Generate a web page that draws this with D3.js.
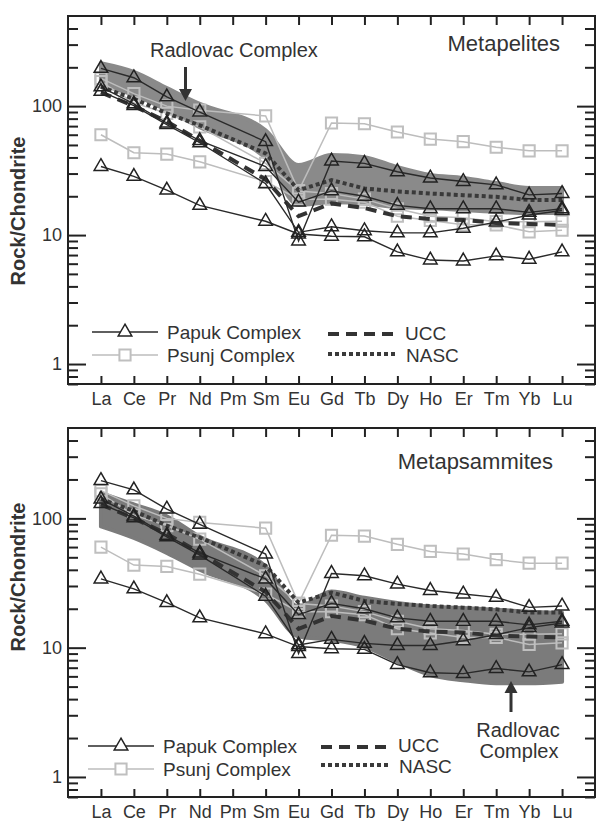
<!DOCTYPE html>
<html>
<head>
<meta charset="utf-8">
<script src="https://cdn.jsdelivr.net/npm/d3@7"></script>
<style>
  body { margin: 0; background: #fff; }
  svg { display: block; font-family: "Liberation Sans", Arial, sans-serif; }
</style>
</head>
<body>
<script>
const width = 596;
const height = 821;

const elements = ["La", "Ce", "Pr", "Nd", "Pm", "Sm", "Eu", "Gd", "Tb", "Dy", "Ho", "Er", "Tm", "Yb", "Lu"];

// Papuk Complex samples (rock/chondrite), Pm not measured
const papuk1 = [196, 166, 118, 90, null, 53, 9.0, 37.5, 36, 31, 27.7, 26, 24.5, 20.5, 21];
const papuk2 = [141, 104, 74, 54, null, 34, 18, 22, 20, 17, 16, 16, 16, 15, 16];
const papuk3 = [130, 101, 72, 52, null, 25, 10.5, 11.6, 10.8, 10.4, 10.4, 11.3, 12.6, 14.3, 15.5];
const papuk4 = [34, 28.5, 22.3, 17, null, 12.8, 10.2, 9.8, 9.7, 7.4, 6.4, 6.3, 6.9, 6.5, 7.4];

// Psunj Complex samples
const psunj1 = [164, 125, 100, 93, null, 84, 22, 74, 73, 63, 55.5, 53, 48, 45, 45];
const psunj2 = [60, 43.5, 42.5, 37, null, 26, 19, 19, 18, 14, 13, 12, 12, 10.6, 10.9];
const psunj3 = [155, 106, 88, 69, null, 36, 22, 21, 19, 16, 14, 13.6, 12.7, 12.7, 12.8];

const ucc = [128, 100, 76, 54, null, 27, 14, 17.6, 16.2, 14, 13.3, 13.1, 12.4, 12.2, 12];
const nasc = [141, 114, 88, 71, null, 43, 22.3, 26.7, 23, 21.8, 21, 20.4, 19.8, 18.7, 18.7];

// Radlovac Complex envelopes
const radPelitesHi = [215, 184, 138, 104, null, 65, 35, 41.8, 40.2, 33.6, 29.2, 27.7, 25.3, 23.2, 23.2];
const radPelitesLo = [145, 122, 93, 68.7, null, 39.5, 17.1, 18, 17.6, 16.5, 16.2, 15.6, 15.1, 14.8, 14.8];
const radPsammitesHi = [157, 128, 104, 72, null, 42.5, 20.8, 27.2, 24.3, 22.2, 20.8, 20.3, 19.6, 19.0, 18.6];
const radPsammitesLo = [86.7, 70.5, 54, 40, null, 23.4, 12.2, 11.5, 10.2, 7.8, 6.15, 5.6, 5.3, 5.3, 5.45];

const majorTicks = [1, 10, 100];
const minorTicks = [0.7, 0.8, 0.9, 2, 3, 4, 5, 6, 7, 8, 9, 20, 30, 40, 50, 60, 70, 80, 90, 200, 300, 400];

const papukSamples = [papuk1, papuk2, papuk3, papuk4];
const psunjSamples = [psunj1, psunj2, psunj3];

const left = 68, right = 595;
const textColor = "#333";

const x = d3.scalePoint()
    .domain(elements)
    .range([left, right])
    .padding(1);

const svg = d3.select("body")
    .append("svg")
    .attr("width", width)
    .attr("height", height);

// keep only measured points so lines run straight from Nd to Sm
function pts(arr){
    return arr.map(function(v, i){ return {el: elements[i], v: v}; })
        .filter(function(d){ return d.v != null; });
}

const panels = [
    {top: 16, bottom: 384, title: "Metapelites", titleX: 560, titleY: 51, hi: radPelitesHi, lo: radPelitesLo,
     bandColor: "#8a8a8a", ylabelY: 211,
     leg: {lx: 92, ly1: 332, ly2: 355, tx: 167, dx0: 328, dx1: 394, dy1: 334, dy2: 354, dtx: 405, dty1: 333, dty2: 355}},
    {top: 428, bottom: 797, title: "Metapsammites", titleX: 553, titleY: 469, hi: radPsammitesHi, lo: radPsammitesLo,
     bandColor: "#7b7b7b", ylabelY: 577,
     leg: {lx: 88, ly1: 746, ly2: 769, tx: 163, dx0: 321, dx1: 386, dy1: 747, dy2: 765, dtx: 398, dty1: 745, dty2: 766}}
];

const tri = d3.symbol(d3.symbolTriangle, 80)();
const sq = d3.symbol(d3.symbolSquare, 125)();

panels.forEach(function(p){
    const y = d3.scaleLog()
        .domain([0.7, 500])
        .range([p.bottom, p.top]);

    const g = svg.append("g");

    // Radlovac envelope
    const band = elements.map(function(el, i){ return {el: el, hi: p.hi[i], lo: p.lo[i]}; })
        .filter(function(d){ return d.hi != null; });
    g.append("path")
        .datum(band)
        .attr("fill", p.bandColor)
        .attr("stroke", p.bandColor)
        .attr("stroke-width", 4)
        .attr("stroke-linejoin", "round")
        .attr("d", d3.area()
            .x(function(d){ return x(d.el); })
            .y0(function(d){ return y(d.lo); })
            .y1(function(d){ return y(d.hi); })
            .curve(d3.curveMonotoneX));

    const line = d3.line()
        .x(function(d){ return x(d.el); })
        .y(function(d){ return y(d.v); });

    // Psunj
    psunjSamples.forEach(function(s){
        g.append("path").datum(pts(s))
            .attr("fill", "none").attr("stroke", "#bdbdbd").attr("stroke-width", 1.5)
            .attr("d", line);
        g.selectAll(null).data(pts(s)).join("path")
            .attr("d", sq)
            .attr("transform", function(d){ return "translate(" + x(d.el) + "," + y(d.v) + ")"; })
            .attr("fill", "none").attr("stroke", "#bfbfbf").attr("stroke-width", 2);
    });

    // UCC and NASC
    g.append("path").datum(pts(ucc))
        .attr("fill", "none").attr("stroke", "#333").attr("stroke-width", 4)
        .attr("stroke-dasharray", "11,7").attr("d", line);
    g.append("path").datum(pts(nasc))
        .attr("fill", "none").attr("stroke", "#3a3a3a").attr("stroke-width", 4)
        .attr("stroke-dasharray", "4,3").attr("d", line);

    // Papuk
    papukSamples.forEach(function(s){
        g.append("path").datum(pts(s))
            .attr("fill", "none").attr("stroke", "#2a2a2a").attr("stroke-width", 1.4)
            .attr("d", line);
        g.selectAll(null).data(pts(s)).join("path")
            .attr("d", tri)
            .attr("transform", function(d){ return "translate(" + x(d.el) + "," + y(d.v) + ")"; })
            .attr("fill", "none").attr("stroke", "#222").attr("stroke-width", 1.5);
    });

    // axes
    function styleAxis(a){
        a.select(".domain").remove();
        a.selectAll("line").attr("stroke", "#222").attr("stroke-width", 2);
    }
    g.append("g").attr("transform", "translate(" + left + ",0)")
        .call(d3.axisRight(y).tickValues(majorTicks).tickSize(18).tickFormat("")).call(styleAxis);
    g.append("g").attr("transform", "translate(" + left + ",0)")
        .call(d3.axisRight(y).tickValues(minorTicks).tickSize(10).tickFormat("")).call(styleAxis);
    g.append("g").attr("transform", "translate(" + right + ",0)")
        .call(d3.axisLeft(y).tickValues(majorTicks).tickSize(18).tickFormat("")).call(styleAxis);
    g.append("g").attr("transform", "translate(" + right + ",0)")
        .call(d3.axisLeft(y).tickValues(minorTicks).tickSize(10).tickFormat("")).call(styleAxis);

    const yl = g.append("g").attr("transform", "translate(" + left + ",0)")
        .call(d3.axisLeft(y).tickValues(majorTicks).tickSize(0).tickPadding(6).tickFormat(d3.format("d")));
    yl.select(".domain").remove();
    yl.selectAll("text").attr("font-size", 18).attr("font-family", null).attr("fill", textColor);

    g.append("g").attr("transform", "translate(0," + p.top + ")")
        .call(d3.axisBottom(x).tickSize(9).tickFormat("")).call(styleAxis);
    g.append("g").attr("transform", "translate(0," + p.bottom + ")")
        .call(d3.axisTop(x).tickSize(8).tickFormat("")).call(styleAxis);
    const xl = g.append("g").attr("transform", "translate(0," + p.bottom + ")")
        .call(d3.axisBottom(x).tickSize(0).tickPadding(8));
    xl.select(".domain").remove();
    xl.selectAll("text").attr("font-size", 18).attr("font-family", null).attr("fill", textColor);

    // frame
    g.append("rect")
        .attr("x", left).attr("y", p.top)
        .attr("width", right - left).attr("height", p.bottom - p.top)
        .attr("fill", "none").attr("stroke", "#222").attr("stroke-width", 2);

    // y label
    g.append("text")
        .attr("transform", "translate(25," + p.ylabelY + ") rotate(-90)")
        .attr("text-anchor", "middle")
        .attr("font-size", 20).attr("font-weight", "bold").attr("fill", textColor)
        .text("Rock/Chondrite");

    // title
    g.append("text")
        .attr("x", p.titleX).attr("y", p.titleY)
        .attr("text-anchor", "end")
        .attr("font-size", 22).attr("fill", textColor)
        .text(p.title);

    // legend
    const L = p.leg;
    const lg = g.append("g").attr("font-size", 19).attr("fill", textColor);
    [[L.ly1, "Papuk Complex", "#2a2a2a", tri, "#222", 1.4],
     [L.ly2, "Psunj Complex", "#bdbdbd", sq, "#bfbfbf", 1.5]].forEach(function(r){
        lg.append("line").attr("x1", L.lx).attr("x2", L.lx + 66).attr("y1", r[0]).attr("y2", r[0])
            .attr("stroke", r[2]).attr("stroke-width", r[5]);
        lg.append("path").attr("d", r[3])
            .attr("transform", "translate(" + (L.lx + 33) + "," + r[0] + ")")
            .attr("fill", "#fff").attr("stroke", r[4]).attr("stroke-width", r[3] === sq ? 2 : 1.5);
        lg.append("text").attr("x", L.tx).attr("y", r[0]).attr("dy", "0.35em").text(r[1]);
    });
    lg.append("line").attr("x1", L.dx0).attr("x2", L.dx1).attr("y1", L.dy1).attr("y2", L.dy1)
        .attr("stroke", "#333").attr("stroke-width", 4).attr("stroke-dasharray", "11,7");
    lg.append("line").attr("x1", L.dx0).attr("x2", L.dx1 + 2).attr("y1", L.dy2).attr("y2", L.dy2)
        .attr("stroke", "#3a3a3a").attr("stroke-width", 4).attr("stroke-dasharray", "4,3");
    lg.append("text").attr("x", L.dtx).attr("y", L.dty1).attr("dy", "0.35em").text("UCC");
    lg.append("text").attr("x", L.dtx + 1).attr("y", L.dty2).attr("dy", "0.35em").text("NASC");
});

// Radlovac annotations
function arrow(x0, yTail, yTip){
    const dir = yTip > yTail ? 1 : -1;
    svg.append("line")
        .attr("x1", x0).attr("x2", x0)
        .attr("y1", yTail).attr("y2", yTip - dir * 10)
        .attr("stroke", "#333").attr("stroke-width", 3);
    svg.append("path")
        .attr("d", "M" + (x0 - 6.5) + "," + (yTip - dir * 12) + "L" + (x0 + 6.5) + "," + (yTip - dir * 12) + "L" + x0 + "," + yTip + "Z")
        .attr("fill", "#333");
}

svg.append("text")
    .attr("x", 150).attr("y", 57)
    .attr("font-size", 20).attr("fill", textColor)
    .text("Radlovac Complex");
arrow(185.5, 67, 101);

arrow(511, 712, 681);
svg.append("text")
    .attr("x", 518).attr("y", 737)
    .attr("text-anchor", "middle")
    .attr("font-size", 20).attr("fill", textColor)
    .text("Radlovac");
svg.append("text")
    .attr("x", 519).attr("y", 758)
    .attr("text-anchor", "middle")
    .attr("font-size", 20).attr("fill", textColor)
    .text("Complex");
</script>
</body>
</html>
